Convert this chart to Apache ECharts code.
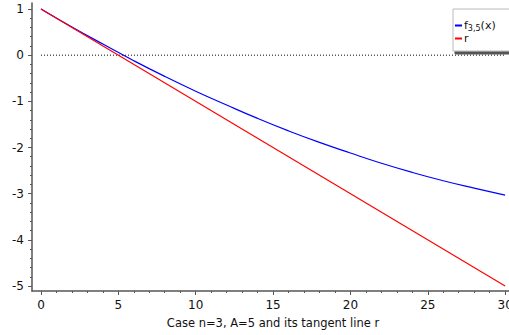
<!DOCTYPE html>
<html><head><meta charset="utf-8">
<script src="https://cdn.jsdelivr.net/npm/echarts@6/dist/echarts.min.js"></script>
<style>html,body{margin:0;padding:0;background:#fff}#c{width:509px;height:335px}</style>
</head><body><div id="c"></div>
<script>
// Data
const xs = [0, 2, 4, 6, 8, 10, 12, 14, 16, 18, 20, 22, 24, 26, 28, 30];
const fVals = [1, 0.61, 0.24, -0.12, -0.46, -0.78, -1.08, -1.37, -1.64, -1.89, -2.12, -2.34, -2.54, -2.72, -2.88, -3.03];
const rX = [0, 30];
const rVals = [1, -5];
const zeroX = [0, 30];
const zeroVals = [0, 0];
const xTicks = [0, 5, 10, 15, 20, 25, 30];
const xMinor = [1,2,3,4,6,7,8,9,11,12,13,14,16,17,18,19,21,22,23,24,26,27,28,29];
const yTicks = [-5, -4, -3, -2, -1, 0, 1];
const yMinor = [];
for (let v = -5; v < 1.05; v += 0.2) { const r = Math.round(v*10)/10; if (!yTicks.includes(r)) yMinor.push(r); }
const xTitle = 'Case n=3, A=5 and its tangent line r';

const XMIN = -0.58, XMAX = 30.25, YMIN = -5.108, YMAX = 1.13;
const font = 'DejaVu Sans';
const axisCol = '#555';

const chart = echarts.init(document.getElementById('c'), null, {renderer: 'svg'});
chart.setOption({
  animation: false,
  backgroundColor: '#fff',
  grid: {left: 32, right: 0, top: 3, bottom: 44, containLabel: false, outerBoundsMode: 'none'},
  legend: {
    data: ['f', 'r'],
    orient: 'vertical',
    left: 453, top: 9,
    padding: [10, 20, 7, 2],
    itemGap: 1,
    itemWidth: 7, itemHeight: 2,
    icon: 'rect',
    backgroundColor: '#fff',
    borderColor: '#bbb', borderWidth: 1,
    shadowColor: '#555', shadowBlur: 0, shadowOffsetX: 2, shadowOffsetY: 3,
    textStyle: {fontFamily: font, fontSize: 11, color: '#111', padding: [0,0,0,-3],
      rich: {n: {fontFamily: font, fontSize: 11, color: '#111', lineHeight: 13},
             s: {fontFamily: font, fontSize: 8, color: '#111', padding: [5,0,0,0], lineHeight: 13}}},
    formatter: function (name) { return name === 'f' ? '{n|f}{s|3,5}{n|(x)}' : '{n|r}'; }
  },
  xAxis: [{
    type: 'value', min: XMIN, max: XMAX, position: 'bottom',
    splitLine: {show: false},
    axisLine: {show: true, onZero: false, lineStyle: {color: axisCol, width: 1.5}},
    axisTick: {show: true, length: 4, customValues: xTicks, lineStyle: {color: axisCol}},
    axisLabel: {customValues: xTicks, margin: 8, fontFamily: font, fontSize: 12, color: '#111', hideOverlap: false},
    name: xTitle, nameLocation: 'middle', nameGap: 26,
    nameTextStyle: {fontFamily: font, fontSize: 11.5, color: '#111', padding: [0,0,0,5]}
  }, {
    type: 'value', min: XMIN, max: XMAX, position: 'bottom',
    splitLine: {show: false},
    axisLine: {show: false, onZero: false},
    axisTick: {show: true, length: 2, customValues: xMinor, lineStyle: {color: axisCol}},
    axisLabel: {show: false}
  }],
  yAxis: [{
    type: 'value', min: YMIN, max: YMAX, position: 'left',
    splitLine: {show: false},
    axisLine: {show: true, onZero: false, lineStyle: {color: axisCol, width: 1.5}},
    axisTick: {show: true, length: 4, customValues: yTicks, lineStyle: {color: axisCol}},
    axisLabel: {customValues: yTicks, margin: 8, fontFamily: font, fontSize: 12, color: '#111', hideOverlap: false}
  }, {
    type: 'value', min: YMIN, max: YMAX, position: 'left',
    splitLine: {show: false},
    axisLine: {show: false, onZero: false},
    axisTick: {show: true, length: 2, customValues: yMinor, lineStyle: {color: axisCol}},
    axisLabel: {show: false}
  }],
  series: [
    {name: 'zero', type: 'line', showSymbol: false, silent: true,
     data: zeroX.map((x, i) => [x, zeroVals[i]]),
     lineStyle: {color: '#000', width: 1, type: [1, 2]}, z: 1},
    {name: 'f', type: 'line', showSymbol: false, smooth: true,
     data: xs.map((x, i) => [x, fVals[i]]),
     itemStyle: {color: '#0000ff'}, lineStyle: {color: '#0000ff', width: 1.2}, z: 2},
    {name: 'r', type: 'line', showSymbol: false,
     data: rX.map((x, i) => [x, rVals[i]]),
     itemStyle: {color: '#ff0000'}, lineStyle: {color: '#ff0000', width: 1.2}, z: 3}
  ]
});
</script></body></html>
